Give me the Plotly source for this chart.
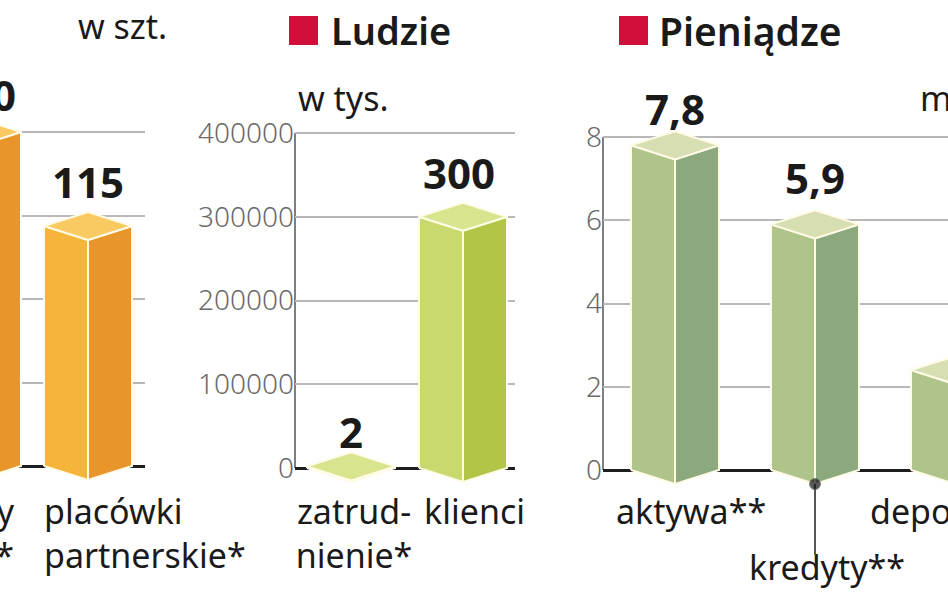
import plotly.graph_objects as go

W, H = 948, 593

# ---------------- data ----------------
p1_categories = ["oddziały<br>własne*", "placówki<br>partnerskie*"]
p1_values = [160, 115]
p1_labels = ["160", "115"]
p1_ticks = [0, 40, 80, 120, 160]

p2_categories = ["zatrud-<br>nienie*", "klienci"]
p2_values = [2000, 300000]
p2_labels = ["2", "300"]
p2_ticks = [0, 100000, 200000, 300000, 400000]

p3_categories = ["aktywa**", "kredyty**", "depozyty**"]
p3_values = [7.8, 5.9, 2.4]
p3_labels = ["7,8", "5,9", "2,4"]
p3_ticks = [0, 2, 4, 6, 8]

# ---------------- styling / geometry (pixels) ----------------
FONT = "Noto Sans"
panels = [
    dict(ax="", cats=p1_categories, vals=p1_values, labs=p1_labels, ticks=p1_ticks,
         xdom=(0, 145), c0=-23, sp=111, zero=466, top=132,
         colors=("#F5B43A", "#E8962B", "#F9CA62"), showaxis=False,
         lab_gap=[11, 17], lab_dx=[39, 0], lab_pos=["top left", "top center"],
         cat_off=[37, -44], cat_pos=["bottom left", "bottom right"], cat_top=[498, 498]),
    dict(ax="2", cats=p2_categories, vals=p2_values, labs=p2_labels, ticks=p2_ticks,
         xdom=(295, 515), c0=351, sp=112, zero=468, top=133,
         colors=("#C9D96D", "#B2C546", "#D9E58E"), showaxis=True,
         lab_gap=[8, 17], lab_dx=[0, -4], lab_pos=["top center", "top center"],
         cat_off=[3, -39], cat_pos=["bottom center", "bottom right"], cat_top=[498, 498]),
    dict(ax="3", cats=p3_categories, vals=p3_values, labs=p3_labels, ticks=p3_ticks,
         xdom=(603, 948), c0=675, sp=140, zero=470, top=137,
         colors=("#AEC48B", "#8CA97D", "#D6DEB2"), showaxis=True,
         lab_gap=[10, 20, 20], lab_dx=[0, 0, 0], lab_pos=["top center"] * 3,
         cat_off=[-59, -66, -85], cat_pos=["bottom right"] * 3, cat_top=[498, 554, 498]),
]
HALF_W_PX = 44
DEPTH_PX = 14

fig = go.Figure()
layout = dict(width=W, height=H, margin=dict(l=0, r=0, t=0, b=0),
              paper_bgcolor="white", plot_bgcolor="white", showlegend=False,
              hovermode=False)
shapes = []

for p in panels:
    xa = "x" + p["ax"]
    ya = "y" + p["ax"]
    u = p["ticks"][-1] / (p["zero"] - p["top"])   # y units per px
    xr = [(p["xdom"][0] - p["c0"]) / p["sp"], (p["xdom"][1] - p["c0"]) / p["sp"]]
    yr = [-(H - p["zero"]) * u, p["zero"] * u]
    hw = HALF_W_PX / p["sp"]
    d = DEPTH_PX * u
    cl, cr, ct = p["colors"]
    for i, v in enumerate(p["vals"]):
        faces = [
            ([i - hw, i, i, i - hw, i - hw], [0, -d, v - d, v, 0], cl),
            ([i, i + hw, i + hw, i, i], [-d, 0, v, v - d, -d], cr),
            ([i - hw, i, i + hw, i, i - hw], [v, v - d, v, v + d, v], ct),
        ]
        for fx, fy, col in faces:
            fig.add_trace(go.Scatter(x=fx, y=fy, mode="lines", fill="toself",
                                     fillcolor=col, line=dict(color="#FFFBE6", width=2),
                                     xaxis=xa, yaxis=ya, hoverinfo="skip"))
        # value label
        fig.add_trace(go.Scatter(
            x=[i + p["lab_dx"][i] / p["sp"]], y=[v + p["lab_gap"][i] * u],
            mode="text", text=[p["labs"][i]], textposition=p["lab_pos"][i],
            textfont=dict(family=FONT, size=42, color="#1a1a1a", weight="bold"),
            cliponaxis=False, xaxis=xa, yaxis=ya, hoverinfo="skip"))
        # category label
        fig.add_trace(go.Scatter(
            x=[i + p["cat_off"][i] / p["sp"]], y=[-(p["cat_top"][i] - p["zero"]) * u],
            mode="text", text=[p["cats"][i]], textposition=p["cat_pos"][i],
            textfont=dict(family=FONT, size=34, color="#1a1a1a"),
            cliponaxis=False, xaxis=xa, yaxis=ya, hoverinfo="skip"))
    if p["ax"] == "3":
        # leader line for kredyty
        fig.add_trace(go.Scatter(
            x=[1, 1], y=[-d, -(555 - p["zero"]) * u], mode="lines+markers",
            line=dict(color="#555555", width=2),
            marker=dict(size=[11, 0], color="#111111"),
            cliponaxis=False, xaxis=xa, yaxis=ya, hoverinfo="skip"))

    xkey = "xaxis" + p["ax"]
    ykey = "yaxis" + p["ax"]
    layout[xkey] = dict(domain=[p["xdom"][0] / W, p["xdom"][1] / W], range=xr,
                        showgrid=False, zeroline=False, showticklabels=False,
                        anchor=ya, fixedrange=True)
    layout[ykey] = dict(domain=[0, 1], range=yr, tickvals=p["ticks"],
                        ticktext=[str(t) for t in p["ticks"]],
                        showticklabels=p["showaxis"], showgrid=True,
                        gridcolor="#B8B8B8", gridwidth=1.5,
                        zeroline=True, zerolinecolor="#1e1e1e", zerolinewidth=3,
                        tickfont=dict(family=FONT, size=28, color="#6a6a6a", weight=300),
                        anchor=xa, fixedrange=True, layer="below traces")
    if p["showaxis"]:
        shapes.append(dict(type="line", xref=xa + " domain", yref=ya,
                           x0=0, x1=0, y0=0, y1=p["ticks"][-1],
                           line=dict(color="#555555", width=1.5), layer="below"))

# titles and units (paper coordinates from pixels)
def px(x):
    return x / W

def py(y):
    return 1 - y / H

annotations = [
    dict(text="w szt.", x=px(76), y=py(26), xanchor="left", yanchor="middle",
         font=dict(family=FONT, size=34, color="#1a1a1a")),
    dict(text="Ludzie", x=px(329), y=py(30), xanchor="left", yanchor="middle",
         font=dict(family=FONT, size=38, color="#1a1a1a", weight=600)),
    dict(text="Pieniądze", x=px(657), y=py(30), xanchor="left", yanchor="middle",
         font=dict(family=FONT, size=39, color="#1a1a1a", weight=600)),
    dict(text="w tys.", x=px(296), y=py(98), xanchor="left", yanchor="middle",
         font=dict(family=FONT, size=34, color="#1a1a1a")),
    dict(text="mld zł", x=px(918), y=py(98), xanchor="left", yanchor="middle",
         font=dict(family=FONT, size=34, color="#1a1a1a")),
]
for a in annotations:
    a.update(xref="paper", yref="paper", showarrow=False)

for x0 in (289, 619):
    shapes.append(dict(type="rect", xref="paper", yref="paper",
                       x0=px(x0), x1=px(x0 + 29), y0=py(45), y1=py(16),
                       fillcolor="#D0103A", line=dict(width=0)))

layout["annotations"] = annotations
layout["shapes"] = shapes
fig.update_layout(**layout)
fig.write_html("out.html", config={"displayModeBar": False},
               post_script="document.body.style.margin='0px';")
